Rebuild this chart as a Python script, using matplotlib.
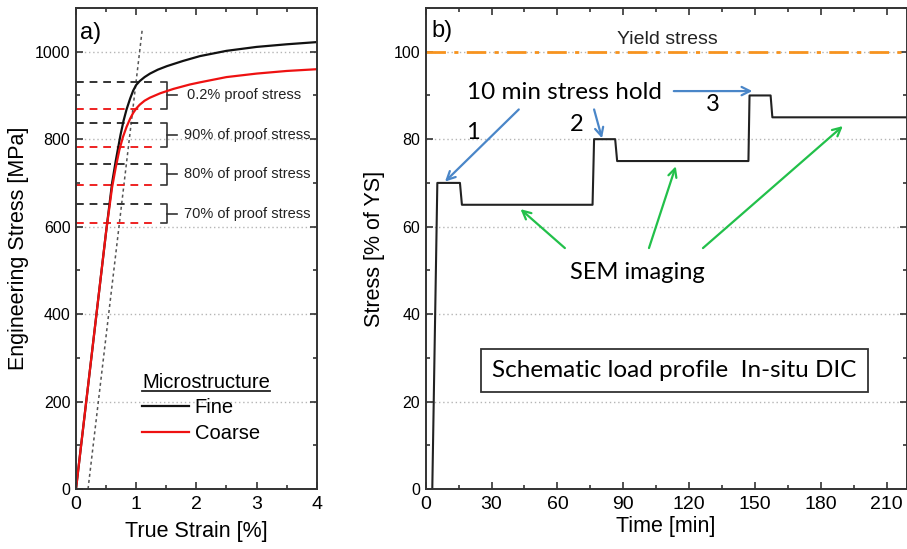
import matplotlib
matplotlib.use("Agg")
import matplotlib.pyplot as plt
from matplotlib.patches import Rectangle
from matplotlib.lines import Line2D
from matplotlib.ticker import MultipleLocator

plt.rcParams['font.family'] = ['Liberation Sans', 'DejaVu Sans']

# ---------------- data: panel a (tensile curves) ----------------
fine_strain = [0, 0.50, 0.60, 0.66, 0.70, 0.74, 0.79, 0.84, 0.90, 0.95, 1.00, 1.06,
               1.14, 1.23, 1.36, 1.51, 1.78, 2.06, 2.50, 3.00, 3.50, 4.00]
fine_stress = [0, 588, 700, 750, 780, 810, 842, 868, 893, 911, 924, 933,
               942, 950, 959, 967, 979, 990, 1002, 1011, 1017, 1022]
coarse_strain = [0, 0.50, 0.60, 0.66, 0.72, 0.78, 0.84, 0.90, 0.95, 1.00, 1.06,
                 1.14, 1.23, 1.40, 1.62, 1.89, 2.06, 2.50, 3.00, 3.50, 4.00]
coarse_stress = [0, 588, 690, 735, 775, 805, 828, 847, 860, 870, 879,
                 888, 895, 905, 915, 925, 930, 942, 950, 956, 960]
offset_strain = [0.2, 1.1]
offset_stress = [0, 1050]
proof_fine = 930
proof_coarse = 870
proof_fracs = [1.0, 0.9, 0.8, 0.7]
proof_labels = ['0.2% proof stress', '90% of proof stress',
                '80% of proof stress', '70% of proof stress']

# ---------------- data: panel b (load profile) ----------------
time_min = [3, 5.3, 15.6, 16.5, 76.0, 76.7, 86.3, 87.2, 147.0, 147.5, 157.1, 157.9, 219]
stress_pct = [0, 70, 70, 65, 65, 80, 80, 75, 75, 90, 90, 85, 85]
yield_pct = 100

fig = plt.figure(figsize=(9.07, 5.49), dpi=100)
axa = fig.add_axes([76/907, 60/549, 240.7/907, 481/549])
axb = fig.add_axes([425.7/907, 60/549, 480.8/907, 481/549])

spine_col = '#333333'
grid_col = '#b5b5b5'


def style_axes(ax):
    for s in ax.spines.values():
        s.set_color(spine_col)
        s.set_linewidth(1.4)
    ax.tick_params(which='both', direction='in', top=True, right=True,
                   color=spine_col, width=1.2)
    ax.tick_params(which='major', length=5)
    ax.tick_params(which='minor', length=3)
    ax.tick_params(axis='x', labelsize=14, pad=5)
    ax.tick_params(axis='y', labelsize=11.5, pad=4)
    ax.yaxis.grid(True, which='major', linestyle=(0, (1, 2)), color=grid_col, linewidth=1)
    ax.set_axisbelow(True)


# ---------------- panel a ----------------
style_axes(axa)
axa.set_xlim(0, 4)
axa.set_ylim(0, 1100)
axa.xaxis.set_major_locator(MultipleLocator(1))
axa.xaxis.set_minor_locator(MultipleLocator(0.5))
axa.yaxis.set_major_locator(MultipleLocator(200))
axa.yaxis.set_minor_locator(MultipleLocator(100))

axa.plot(offset_strain, offset_stress, color='#555555', linestyle=(0, (2, 2)), linewidth=1.1)

for frac, lab in zip(proof_fracs, proof_labels):
    yb = proof_fine * frac
    yr = proof_coarse * frac
    axa.plot([0, 1.34], [yb, yb], color='#333333', linestyle=(0, (4, 3)), linewidth=1.4)
    axa.plot([0, 1.34], [yr, yr], color='#ee2222', linestyle=(0, (4, 3)), linewidth=1.4)
    # bracket joining the two levels
    xb = 1.515
    axa.plot([1.41, xb, xb, 1.41], [yb, yb, yr, yr], color='#333333', linewidth=1.2)
    axa.plot([xb, 1.68], [(yb + yr) / 2] * 2, color='#333333', linewidth=1.2)
    axa.text(1.84 if frac == 1.0 else 1.80, (yb + yr) / 2, lab, fontsize=10.5,
             color='#222222', va='center', ha='left')

l_fine, = axa.plot(fine_strain, fine_stress, color='#111111', linewidth=1.6, label='Fine')
l_coarse, = axa.plot(coarse_strain, coarse_stress, color='#ee1111', linewidth=1.6, label='Coarse')

axa.text(0.07, 1043, 'a)', fontsize=17, va='center', ha='left')
axa.set_xlabel('True Strain [%]', fontsize=15.5, labelpad=6)
axa.set_ylabel('Engineering Stress [MPa]', fontsize=15.5, labelpad=4)

leg = axa.legend(handles=[l_fine, l_coarse], title='Microstructure', loc='upper left',
                 bbox_to_anchor=(0.275, 0.242), frameon=False, fontsize=14.5,
                 title_fontsize=14.5, handlelength=2.3, handletextpad=0.3,
                 labelspacing=0.33, borderpad=0, borderaxespad=0, alignment='left')

# ---------------- panel b ----------------
style_axes(axb)
axb.set_xlim(0, 219)
axb.set_ylim(0, 110)
axb.xaxis.set_major_locator(MultipleLocator(30))
axb.xaxis.set_minor_locator(MultipleLocator(15))
axb.yaxis.set_major_locator(MultipleLocator(20))
axb.yaxis.set_minor_locator(MultipleLocator(10))

axb.axhline(yield_pct, color='#f7931e', linewidth=2, linestyle=(0, (7, 3, 1.5, 3)))
axb.plot(time_min, stress_pct, color='#222222', linewidth=1.5)

axb.text(110, 102.8, 'Yield stress', fontsize=14, ha='center', va='center', color='#222222')
axb.text(2.7, 104.7, 'b)', fontsize=17, ha='left', va='center')

cal = ['Lato', 'DejaVu Sans']
axb.text(63, 90.7, '10 min stress hold', fontsize=17.5, family=cal, ha='center', va='center')
axb.text(21.4, 81.5, '1', fontsize=17, family=cal, ha='center', va='center')
axb.text(68.7, 83.3, '2', fontsize=17, family=cal, ha='center', va='center')
axb.text(130.6, 88.0, '3', fontsize=17, family=cal, ha='center', va='center')
axb.text(96.6, 49.5, 'SEM imaging', fontsize=17, family=cal, ha='center', va='center')

blue = '#4a86c8'
green = '#22c04a'
for start, end in [((42.4, 86.8), (8.8, 70.3)),
                   ((76.7, 86.8), (80.3, 80.2)),
                   ((113.0, 91.0), (148.8, 91.0))]:
    axb.annotate('', xy=end, xytext=start,
                 arrowprops=dict(arrowstyle='->,head_length=0.6,head_width=0.3',
                                 color=blue, lw=1.6, shrinkA=0, shrinkB=0))
for start, end in [((63.4, 55.1), (43.2, 64.0)),
                   ((101.7, 55.1), (113.9, 73.8)),
                   ((126.3, 55.1), (190.0, 83.0))]:
    axb.annotate('', xy=end, xytext=start,
                 arrowprops=dict(arrowstyle='->,head_length=0.6,head_width=0.3',
                                 color=green, lw=1.6, shrinkA=0, shrinkB=0))

axb.add_patch(Rectangle((25.2, 22.1), 176.4, 10.0, facecolor='white',
                        edgecolor='#333333', linewidth=1.3, zorder=3))
axb.text(113.4, 27.1, 'Schematic load profile  In-situ DIC', fontsize=17.5, family=cal,
         ha='center', va='center', zorder=4)

axb.set_xlabel('Time [min]', fontsize=15.5, labelpad=2)
axb.set_ylabel('Stress [% of YS]', fontsize=15.5, labelpad=6)

# underline under the legend title
fig.canvas.draw()
r = fig.canvas.get_renderer()
tb = leg.get_title().get_window_extent(r)
inv = fig.transFigure.inverted()
(x0, y0), (x1, _) = inv.transform([(tb.x0, tb.y0 + 1), (tb.x1, tb.y0)])
fig.add_artist(Line2D([x0, x1], [y0, y0], color='#222222', linewidth=1.3,
                      transform=fig.transFigure))

fig.savefig('out.png', dpi=100)
